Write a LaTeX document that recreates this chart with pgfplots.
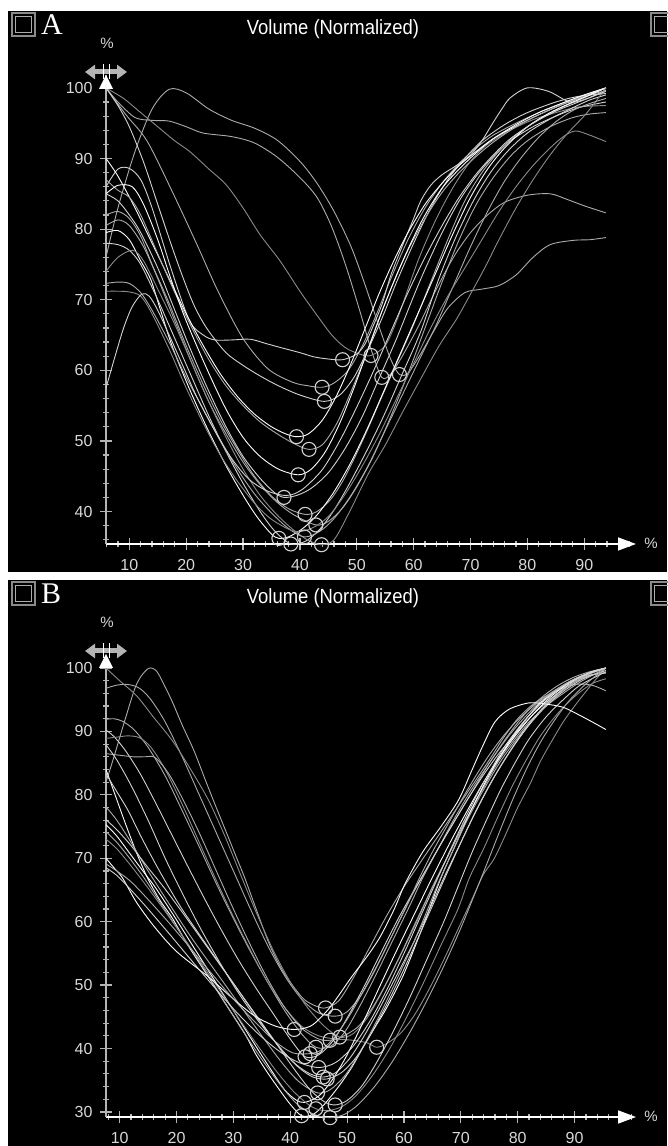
\documentclass[border=0pt]{standalone}
\usepackage{pgfplots}
\pgfplotsset{compat=1.18}
\usepackage{fontspec}
\setmainfont{Liberation Sans}
\newfontfamily\serifA{Liberation Serif}
\usetikzlibrary{arrows.meta}
\definecolor{axgray}{HTML}{B4B4B4}
\definecolor{lblgray}{HTML}{D8D8D8}
\definecolor{c1}{HTML}{FFFFFF}
\definecolor{c2}{HTML}{D2D2D2}
\definecolor{c3}{HTML}{ABABAB}
\definecolor{c4}{HTML}{8A8A8A}
\pgfplotsset{
  crv/.style={smooth, tension=0.5, no markers, line width=0.9pt},
  esv/.style={only marks, mark=o, mark size=7pt, mark options={draw=c2, line width=1.1pt}},
  panelax/.style={
    scale only axis, width=530pt, clip=false,
    axis x line*=bottom, axis y line*=left,
    x axis line style={draw=white, line width=1.6pt, -{Triangle[width=13pt,length=18pt]}},
    y axis line style={draw=axgray, line width=1.6pt},
    xtick={10,20,...,90},
    tick align=center,
    major tick length=12pt, minor tick length=6pt,
    tick style={axgray, line width=1.2pt},
    ticklabel style={font=\fontsize{16}{16}\selectfont, text=lblgray},
    /pgf/number format/assume math mode=true,
    xticklabel style={yshift=-6pt},
    yticklabel style={xshift=-4pt},
  }
}
% #1 = y of the grey double arrow; triangle just below
\newcommand{\topdeco}[1]{%
  \draw[axgray, line width=5pt, {Triangle[width=14pt,length=10pt]}-{Triangle[width=14pt,length=10pt]}] (85,#1) -- (127,#1);
  \draw[white, line width=0.8pt] (103,#1-7) -- (103,#1+8) (109,#1-7) -- (109,#1+8);
  \fill[white] (99,#1-17) -- (113,#1-17) -- (106,#1-3) -- cycle;
}
\newcommand{\sq}[2]{%
  \draw[c4, line width=1.6pt] (#1,#2) rectangle ++(23,23);
  \draw[c3, line width=0.8pt] (#1+3.5,#2+3.5) rectangle ++(16,16);
}
\begin{document}
\begin{tikzpicture}[x=1pt,y=1pt]
\useasboundingbox (0,0) rectangle (667,1146);
\fill[white] (0,0) rectangle (667,1146);
\fill[black] (8,574) rectangle (667,1135);
\fill[black] (8,0) rectangle (667,566);
% ---------- panel A decorations
\sq{12}{1110}
\sq{651}{1110}
\node[anchor=base west, text=white, inner sep=0pt] at (41,1111) {\serifA\fontsize{30}{30}\selectfont A};
\node[anchor=base, text=white, inner sep=0pt] at (333,1111) {\scalebox{0.9}[1]{\fontsize{20.5}{20.5}\selectfont Volume (Normalized)}};
\node[text=lblgray, inner sep=0pt] at (107,1103) {\fontsize{15}{15}\selectfont \%};
\node[text=lblgray, inner sep=0pt] at (651,603) {\fontsize{15}{15}\selectfont \%};
% ---------- panel B decorations
\sq{12}{541}
\sq{651}{541}
\node[anchor=base west, text=white, inner sep=0pt] at (41,542) {\serifA\fontsize{30}{30}\selectfont B};
\node[anchor=base, text=white, inner sep=0pt] at (333,542) {\scalebox{0.9}[1]{\fontsize{20.5}{20.5}\selectfont Volume (Normalized)}};
\node[text=lblgray, inner sep=0pt] at (107,524) {\fontsize{15}{15}\selectfont \%};
\node[text=lblgray, inner sep=0pt] at (651,30) {\fontsize{15}{15}\selectfont \%};

% ================= PANEL A =================
\begin{axis}[panelax, at={(106pt,602pt)}, anchor=south west, height=468.8pt,
  xmin=5.9, xmax=99.1, ymin=35.4, ymax=101.8,
  ytick={40,50,...,100},
  minor xtick={6,8,...,98}, minor ytick={36,38,...,100}]
\addplot[crv,c3] coordinates {(5.9,76) (8,83) (11,91) (14,97) (17,99.8) (20,99.3) (24,97) (28,95.4) (32,94.3) (36,92.6) (40,89.6) (43,86.5) (46,82.5) (49,77.5) (51.5,72) (54,66) (56,61.5) (57.5,59.4) (59,59.6) (61,62) (63.5,65.5) (66,68.8) (69,71) (72,71.5) (75,72) (78,73.5) (81,76) (84,77.8) (88,78.4) (91,78.5) (93.8,78.8)};
\addplot[crv,c3] coordinates {(5.9,100) (8,98) (11,95.8) (14,95.4) (17,95.3) (20,94.5) (23,93.6) (28,93.1) (32,92.2) (36,90.2) (40,87.3) (43,84.5) (45.5,80.5) (48,75) (50.5,68.5) (52.5,63) (54.4,59) (56,59.5) (58,62) (61,66.5) (64,71.5) (67,76) (70,79.5) (73,82) (76,83.8) (80,84.8) (84,85) (87,84.2) (90,83.3) (93.8,82.3)};
\addplot[crv,c4] coordinates {(5.9,100) (9,98.5) (12,96.5) (15,94.5) (18,92.5) (20.6,91) (24,88.5) (27,86.3) (30,83) (33,79.2) (36.5,75.5) (40,71.2) (43,67.8) (45.6,65) (48,63.2) (50.5,62.3) (52.5,62.1) (55,63.5) (57,67) (59,71.5) (61,76) (64,81.5) (67,86) (70,89.6) (73,92) (77,94) (81,95.5) (85,96.5) (89,97.3) (93.8,97.5)};
\addplot[crv,c3] coordinates {(5.9,100) (9.4,96.2) (13.1,92.5) (17.5,85.4) (21.9,77.8) (25.6,71.2) (30,64.5) (34.4,60.2) (38.75,58.3) (41.5,57.8) (43.9,57.6) (46,58.2) (48.5,60) (51,63.5) (53.5,68) (56,73) (59,78.5) (62,83) (65,86.5) (68,89.3) (71,91.5) (74,93.3) (78,95) (82,96.5) (86,97.8) (90,99) (93.8,100)};
\addplot[crv,c2] coordinates {(5.9,100) (8,97.5) (10,94.5) (12.5,89.5) (15,83.5) (17.5,77.5) (19.5,73) (21.5,69) (23.75,65.8) (27,62.5) (30,60.7) (33,59.2) (36.25,57.8) (40,56.5) (44.3,55.6) (47,56.5) (49.5,59) (52,63) (54.5,67.5) (57,72.5) (60,78) (63,83) (66,87) (69,90) (72,92.5) (76,94.8) (80,96.5) (85,98) (89,98.8) (93.8,99.2)};
\addplot[crv,c2] coordinates {(5.9,86) (8,88.5) (10,88.6) (12,87) (14,83) (17.5,74) (20.6,67) (23,65) (25,64.3) (28,64.3) (31.25,64.4) (34,63.8) (36.25,63.3) (40,62.5) (42.5,61.9) (45,61.6) (47.5,61.5) (50,62.3) (51.5,63.8) (53,66.5) (54.5,69.5) (56,73.5) (58.1,77.8) (60,81.5) (61.25,84) (63,86.2) (65,87.7) (67.5,89) (70,90.5) (72,92.5) (73.75,94.8) (75.5,97) (77,98.6) (80,100) (83.75,99.5) (87.5,98) (90.5,98.5) (93.8,99.7)};
\addplot[crv,c1] coordinates {(5.9,90) (8,87.5) (11,83) (14,78) (17,73) (20,68) (23,63.5) (26,59.5) (29,56.3) (32,53.8) (35,52) (37.5,51) (39.4,50.6) (41.5,51) (44,53) (46.5,56.5) (49,61) (51.5,66) (54,71) (56.5,75.5) (59,79.5) (62,83.5) (65,86.5) (68,89) (71,91) (74,92.8) (78,94.6) (82,96.2) (86,97.6) (90,98.8) (93.8,100)};
\addplot[crv,c3] coordinates {(5.9,87) (8,85.5) (10,84.5) (12,82) (15,76.5) (18,71) (21,66) (24,61.5) (27,57.8) (30,55) (33,52.7) (36,51) (39,49.6) (41.6,48.8) (44,49.5) (46.5,52.5) (49,57) (51.5,62) (54,67.5) (56.5,72.5) (59,77) (62,81.5) (65,85.2) (68,88) (71,90.3) (74,92.3) (78,94.5) (82,96.2) (86,97.6) (90,98.8) (93.8,99.6)};
\addplot[crv,c1] coordinates {(5.9,85) (8,86.2) (10.5,86) (12.5,83.5) (15,78.5) (17.5,72.5) (20,67) (23.75,60) (27,54.5) (30,50.5) (33,47.8) (36.25,46) (39.7,45.2) (42,46) (44.5,48.5) (47,52.5) (49.5,57.5) (52,63) (54.5,68.5) (57,73.5) (59.5,78) (62,82) (65,85.8) (68,88.5) (71,90.8) (74,92.8) (78,94.8) (82,96.5) (86,97.8) (90,99) (93.8,100)};
\addplot[crv,c2] coordinates {(5.9,85) (8,84) (10,82) (12,79.5) (15,74.5) (18,68.5) (21,62.5) (24,57) (27,52) (30,47.8) (33,44.7) (35.5,42.7) (37.2,42) (39.5,42.3) (42,43.3) (45,45.5) (48,49) (51,53.5) (54,59) (57,64.5) (60,70.5) (62,74.3) (65,79.5) (68,84) (71,87.5) (74,90.3) (77,92.5) (81,94.5) (85,96) (89,97.2) (93.8,98)};
\addplot[crv,c3] coordinates {(5.9,82) (8,82.5) (10,81.5) (12,79) (14,75) (17,69.5) (20,63.5) (23,58) (26,53) (29,48.8) (32,45) (35,42.2) (38,40.4) (40.9,39.6) (43,40) (45.5,41.8) (48,45) (51,50) (54,55.5) (57,61) (60,66.5) (63,72.5) (66,78.5) (69,84) (72,88) (75,91) (78,93.3) (82,95.5) (86,97.2) (90,98.6) (93.8,100)};
\addplot[crv,c3] coordinates {(5.9,80.5) (8,81.3) (10,80.5) (12.5,77.5) (15,73) (18,67) (21,61) (24,55.5) (27,51) (30,47) (33,43.8) (36,41.3) (39,39.5) (42.8,38.1) (45,38.6) (47.5,40.5) (50,43.5) (53,48) (56,53.5) (59,59.5) (62,66) (65,72.5) (68,78.5) (71,83.5) (74,87.3) (77,90.3) (80,92.5) (84,94.5) (88,95.8) (91,96.3) (93.8,96.5)};
\addplot[crv,c1] coordinates {(5.9,79.5) (8,79.8) (10,78.5) (12,75.5) (13.75,72.9) (15.5,68.5) (17.5,63.5) (20.5,57.5) (23.75,51.7) (27,46.5) (30,42.3) (32.5,39.2) (35,36.8) (36.3,36.2) (38,36.4) (40.5,37.6) (43,39.5) (46,42.8) (49,47) (52,52) (55,57.5) (58,63) (61,68.5) (64,74) (67,79.5) (70,84.5) (73,88.5) (76,91.5) (80,94.5) (84,96.5) (88,98) (91,99) (93.8,100)};
\addplot[crv,c2] coordinates {(5.9,78) (8,77.8) (10,77) (12,75) (15,70) (18,64.5) (21,59) (24,53.5) (27,48.5) (30,44) (33,40) (35.5,37.3) (38.4,35.4) (41,35.8) (43.5,37.5) (46,40.2) (48.75,44) (52,49) (55,54) (58,59.5) (61.25,65.5) (64.4,72.9) (67.5,79) (70.5,84) (73.5,88) (76.5,91) (80,93.6) (84,95.6) (88,97.2) (91,98.3) (93.8,99)};
\addplot[crv,c4] coordinates {(5.9,74) (8,76) (10.6,77) (12.5,75.5) (15,71.5) (18,66.5) (21,61) (24,55.5) (27,50.5) (30,46) (33,42.3) (36,39.5) (39,37.3) (41.5,35.9) (43.8,35.3) (46,36) (48.75,40) (52,45.3) (55,49.4) (58,54) (61.25,58.8) (64.5,63.5) (67.5,67.2) (70,70.8) (72.5,74.5) (75,78.5) (78,83) (81,87) (84,90.5) (87,93.5) (90.5,96.5) (93.8,100)};
\addplot[crv,c3] coordinates {(5.9,72.3) (8,72.5) (10,72.3) (12,71) (14,68.5) (17,64) (20,59) (23,54.5) (26,50) (29,46) (32,42.5) (35,39.8) (38,37.6) (40.8,36.4) (43.5,37.2) (46,39) (49,42.3) (52,46.5) (55,51.5) (58,56.5) (61,61.5) (64,66.5) (67,72) (70,77.5) (73,82.5) (76,86.8) (79,90.2) (82,93) (85,95.2) (88,96.8) (91,97.8) (93.8,98.5)};
\addplot[crv,c4] coordinates {(5.9,71.2) (8,71.2) (10,71.1) (12,70.5) (14,68) (17,63) (20,57.5) (23,52.5) (26,48) (29,44.3) (32,41.2) (35,38.9) (39,37.2) (42,37.6) (45,39.3) (48,42.5) (51,46.5) (54,51) (57,56) (60,61) (63,66) (66,70.5) (69,74.5) (72,78.5) (75,82.5) (78,86) (81,89) (84,91.5) (86.5,93.2) (88.5,93.9) (91,93.3) (93.8,92.4)};
\addplot[crv,c2] coordinates {(5.9,57.5) (7.5,62) (9,66) (10.5,69) (12.2,70.8) (13.5,70.5) (15,68.5) (17,65) (19.5,60.5) (22,56) (25,51.5) (28,47.5) (31,44.6) (34,43) (37,42.3) (39,42.5) (41,43.5) (44,46) (47,50) (50,54.8) (53,60) (56,65.5) (59,71) (62,76) (65,80.5) (68,84.5) (71,87.8) (74,90.5) (77,92.8) (81,95) (85,96.7) (89,98) (93.8,99.5)};
\addplot[esv] coordinates {(57.5,59.4) (54.4,59) (52.5,62.1) (43.9,57.6) (44.3,55.6) (47.5,61.5) (39.4,50.6) (41.6,48.8) (39.7,45.2) (37.2,42) (40.9,39.6) (42.8,38.1) (36.3,36.2) (38.4,35.4) (43.8,35.3) (40.8,36.4)};
\end{axis}

% ================= PANEL B =================
\begin{axis}[panelax, at={(106pt,29pt)}, anchor=south west, height=460.4pt,
  xmin=7.6, xmax=100.8, ymin=29.2, ymax=101.8,
  ytick={30,40,...,100},
  minor xtick={8,10,...,100}, minor ytick={30,32,...,100}]
\addplot[crv,c3] coordinates {(7.6,82) (9,86) (11,92) (13,97.5) (15,99.9) (16.5,99.5) (18,97) (19.3,94.6) (21,91) (23.1,86.9) (25,82.5) (26.9,78.2) (28.8,74) (30.6,70) (32,66.9) (34,62) (36.3,56.5) (38.5,52.5) (40.7,49.6) (42.5,47.7) (44.5,46.7) (46.2,46.4) (48.5,47.5) (51,51) (54,56) (57,61) (60,65.5) (63,69.5) (66,73.5) (69,77.5) (72,81.5) (75,85.5) (77.5,89) (80,92) (83,94.5) (86.5,96.3) (90,97.4) (93,97.3) (95.5,96.4)};
\addplot[crv,c3] coordinates {(7.6,96.8) (9.5,97.3) (11.5,97.4) (13.5,96.8) (15.5,95) (18,91.5) (21,86) (24,80) (27,74) (30,68) (33,62) (36,56.3) (39,51.5) (42,47.8) (45,45.6) (47.9,45.1) (50,45.8) (52.5,48.5) (55,52.5) (58,58) (61,63.5) (63.5,67.5) (66,71.5) (69,76) (72,80.5) (75,85) (78,89) (81,92.5) (84,95.2) (87,97.2) (90,98.6) (93,99.5) (95.5,100)};
\addplot[crv,c4] coordinates {(7.6,100) (10,98) (13,95.6) (16,92.2) (19.3,88.5) (22.5,84) (25.6,79.2) (28.5,73.5) (31,68) (34,61.5) (37,55.5) (40,50.5) (43,46.5) (46,43.5) (48.7,41.8) (51,42.3) (53.5,44.8) (56,48.7) (59,54) (62,59.5) (65,65.5) (67.5,70) (70,74.5) (73,79.5) (76,84.5) (79,88.8) (82,92.5) (85,95.3) (88,97.3) (91,98.6) (95.5,99.3)};
\addplot[crv,c3] coordinates {(7.6,91.9) (9,92) (10.5,91.6) (12.5,90.3) (15,87.5) (18,83) (21,77.5) (24,71.8) (27,66) (30,60.5) (33,55.3) (36,50.5) (39,46) (42,42.3) (44.5,40.2) (47,40.3) (49.5,42.5) (52,46.3) (55,51.5) (58,57) (61,62.5) (63.3,66.9) (66,71.5) (69,76.5) (72,81) (75,85) (78,88.8) (80.5,91.5) (83.5,94.3) (87,96.7) (90.5,98.5) (95.5,100)};
\addplot[crv,c2] coordinates {(7.6,90.2) (9,89.2) (11,87) (13.5,83.5) (16,79.3) (19,74) (22,68.7) (25,63.5) (28,58.5) (31,53.8) (34,49.5) (37,45.5) (40,41.5) (42.6,38.7) (45,39) (47.5,41.2) (50,44.8) (53,49.8) (56,55.2) (59,60.5) (62,65.3) (64.6,69.3) (67.5,73.8) (70.5,78.3) (73.5,82.5) (76.5,86.3) (79.5,89.5) (82.5,92.5) (86,95.3) (89.5,97.5) (92.5,98.8) (95.5,99.2)};
\addplot[crv,c4] coordinates {(7.6,88.9) (9.5,89.1) (11.5,89.3) (13.5,89) (15.5,87.5) (18,84) (21,78.5) (24,72.5) (27,66.5) (30,60.8) (33,55.5) (36,50.5) (39,46.5) (42,43.5) (45,42) (48,41.5) (51,41.3) (53.5,40.9) (55.2,40.2) (57,40.8) (59.5,42.5) (62,45.5) (64.5,49.5) (67,54) (69.5,58.8) (72.1,63.8) (74,67.5) (75.9,70) (78,74) (80,78) (82.2,81.8) (84,85.3) (86,88.5) (88,91.5) (90,94) (92,96.3) (94,98.5) (95.5,100)};
\addplot[crv,c3] coordinates {(7.6,86.5) (9.5,86.3) (12.4,86) (14.5,86) (16.2,85.9) (18.5,83.5) (21,79.5) (24,74) (27,68) (30,62) (33,56.3) (36,51) (39,46.5) (42,43.2) (45,41.5) (47,41.3) (49,41.8) (52,43.5) (54.5,46.5) (57,50.5) (59.5,55) (62,59.8) (64.5,64.5) (67,69) (69.5,73.5) (72,78) (74.5,82) (77,85.8) (79.5,88.8) (82,91.5) (85,94) (88,96) (91,97.8) (95.5,100)};
\addplot[crv,c1] coordinates {(7.6,84) (9,80.5) (11,75.5) (13,70.8) (14.9,66.9) (17,63.5) (19.3,60.5) (22,56.3) (25.6,51.3) (28.5,47.2) (31.9,42.5) (34,39) (36.3,35.8) (38.5,33) (40.1,31.1) (42,29.4) (44,29.6) (46,31.2) (48.5,34) (50.8,37) (53,40.5) (55,43.5) (57,46.5) (60,51.8) (63.3,59.2) (66.5,66.9) (69,72) (71.5,77) (74,81.5) (76.5,85.5) (79,89) (81.5,92) (84,94.5) (87,96.5) (90,98.2) (93,99.4) (95.5,100)};
\addplot[crv,c2] coordinates {(7.6,83.3) (9.5,80.5) (11.5,77.5) (14,73) (17,68) (20.6,62.5) (24,58) (27.5,53.5) (31,49) (34.5,44.5) (38,40.3) (41,37.5) (43.5,36) (45.8,35.5) (48,36.2) (50.5,38.5) (53,42) (55.5,46) (58,50.3) (61,55.5) (64,61) (67,66.9) (70,72.5) (73,78) (76,83) (79,87.3) (82,91) (85,94) (88,96.3) (91.5,98.3) (95.5,99.6)};
\addplot[crv,c3] coordinates {(7.6,78.1) (9.5,76) (12,72.5) (15,68) (19.3,62) (23,57) (27,52) (31,47) (35,42) (38.5,37.8) (41.5,34.8) (44.8,33) (47,33.5) (49.5,35.6) (52,39) (55,44) (58,49.5) (61,55.3) (63.5,60.5) (66,66) (68.5,71) (71,75.8) (74,80.8) (77,85.3) (80,89) (83,92.3) (86,95) (89,97.2) (92,98.8) (95.5,100)};
\addplot[crv,c2] coordinates {(7.6,76.1) (9.5,74.5) (12,72) (15,68.5) (17.7,65.5) (21,61.5) (25,56.5) (29,51.5) (33,46.5) (37,41.5) (40.5,37) (43.5,33.5) (46,31.6) (47.9,31.1) (50,31.8) (52.5,34) (55,37.5) (58,42.5) (61,48) (64,54) (67,60) (69.5,65.5) (72,71) (74.5,76) (77,80.8) (79.5,85) (82,88.8) (85,92.3) (88,95) (91,97.3) (95.5,99.4)};
\addplot[crv,c1] coordinates {(7.6,75.3) (9.5,73.5) (12,70.5) (14.5,67.5) (16.2,65.5) (19.5,61) (23,56) (26.5,51) (30,46) (33.5,41) (36.5,36.8) (39,33.5) (41,31.9) (42.5,31.5) (45,32.5) (47.5,35.2) (50,39) (53,44.5) (56,50.3) (59,56) (62,61.5) (65,67) (68,72.3) (71,77.3) (74,82) (77,86.2) (80,89.8) (83,93) (86,95.6) (89,97.6) (92,99) (95.5,100)};
\addplot[crv,c3] coordinates {(7.6,74.2) (9.5,72.5) (11.5,70.3) (14.3,66.9) (17.5,62.5) (21,57.8) (24.5,53) (28,48) (31.5,43) (35,38.3) (38.5,34) (41.5,31) (44.5,29.5) (47,29.1) (49.5,29.6) (52,31.2) (55,34.2) (58,38) (61,42.5) (64,47.5) (67,53) (70,59) (72.5,64.5) (74.3,68.5) (76.5,73.5) (79,79) (81.5,84) (84,88.3) (86.5,91.8) (89,94.8) (92,97.5) (95.5,100)};
\addplot[crv,c4] coordinates {(7.6,73) (9.5,71.5) (12,68.8) (15,65.3) (18.5,61) (22,56.5) (26,51.3) (30,46) (34,40.8) (37.5,36.5) (40.5,33.3) (43,31.3) (44.5,30.5) (46.5,30.2) (49,30.8) (51.5,32.5) (54.5,35.8) (57.5,40) (60.5,45) (63.5,50.5) (66.5,56.3) (69.5,62) (71.5,66.9) (74,71.5) (76.5,76.5) (79,81.3) (81.5,85.5) (84,89.3) (87,92.8) (90,95.5) (93,97.5) (95.5,98.3)};
\addplot[crv,c1] coordinates {(7.6,70) (9,68.5) (10.5,66.9) (13,63) (16.2,59.1) (20,55.3) (25.6,51.3) (30,47.8) (33.8,45.1) (37.5,43.5) (40.7,43) (43.5,43.5) (45.5,45) (47.6,47.2) (50.8,51.3) (53.5,54.5) (55.8,57.6) (58.3,62) (60.2,66) (63.3,71) (66.5,75) (69.6,79.2) (72,84) (74,88) (76,91.5) (78.5,93.5) (82,94.5) (85,94.3) (88,93.8) (91,92.5) (93.5,91.3) (95.5,90.3)};
\addplot[crv,c3] coordinates {(7.6,69.1) (9.5,68) (12,66.3) (15,63.5) (18.5,60) (22,56.3) (26,52) (30,47.8) (34,44) (37.5,41) (40.5,39.3) (43.5,39.2) (45.5,39.8) (48,42) (50.5,45.3) (53,49.3) (55.5,53.5) (58,58) (60.5,62.5) (62.5,66.5) (65,71) (67.5,75) (70,79) (72.5,82.8) (75,86.3) (77.5,89.3) (80,91.8) (83,94.2) (86,96.2) (89,97.8) (92,99) (95.5,100)};
\addplot[crv,c2] coordinates {(7.6,68.5) (9.5,67.3) (12,65) (15,62) (19,57.8) (23,53.5) (27,49.3) (31,45.3) (35,41.8) (38.5,39.3) (41.5,37.8) (45,37) (48,37.8) (51,40.3) (54,44.3) (57,49.3) (60,55) (63,61) (65.5,66) (68,71) (70.5,75.8) (73,80.3) (75.5,84.3) (78,88) (81,91.5) (84,94.3) (87,96.5) (90,98.2) (93,99.3) (95.5,100)};
\addplot[crv,c2] coordinates {(7.6,87.9) (9.5,85.5) (12,81.5) (15,76) (18,70) (21,64.5) (24,59.3) (27,54.5) (30,50) (33,46) (36,42.5) (39,39.3) (41.5,37) (44,35.5) (46.5,35.2) (49,36.2) (51.5,38.5) (54,42) (57,47) (60,52.5) (63,58.5) (66,64.5) (69,70.5) (72,76.3) (75,81.5) (78,86) (81,90) (84,93.3) (87,96) (90,98) (93,99.3) (95.5,100)};
\addplot[esv] coordinates {(46.2,46.4) (47.9,45.1) (48.7,41.8) (44.5,40.2) (42.6,38.7) (55.2,40.2) (47,41.3) (42,29.4) (45.8,35.5) (44.8,33) (47.9,31.1) (42.5,31.5) (47,29.1) (44.5,30.5) (40.7,43) (43.5,39.2) (45,37) (46.5,35.2)};
\end{axis}

% top decorations on y axes (drawn last)
\topdeco{1074}
\topdeco{495}
\end{tikzpicture}
\end{document}
